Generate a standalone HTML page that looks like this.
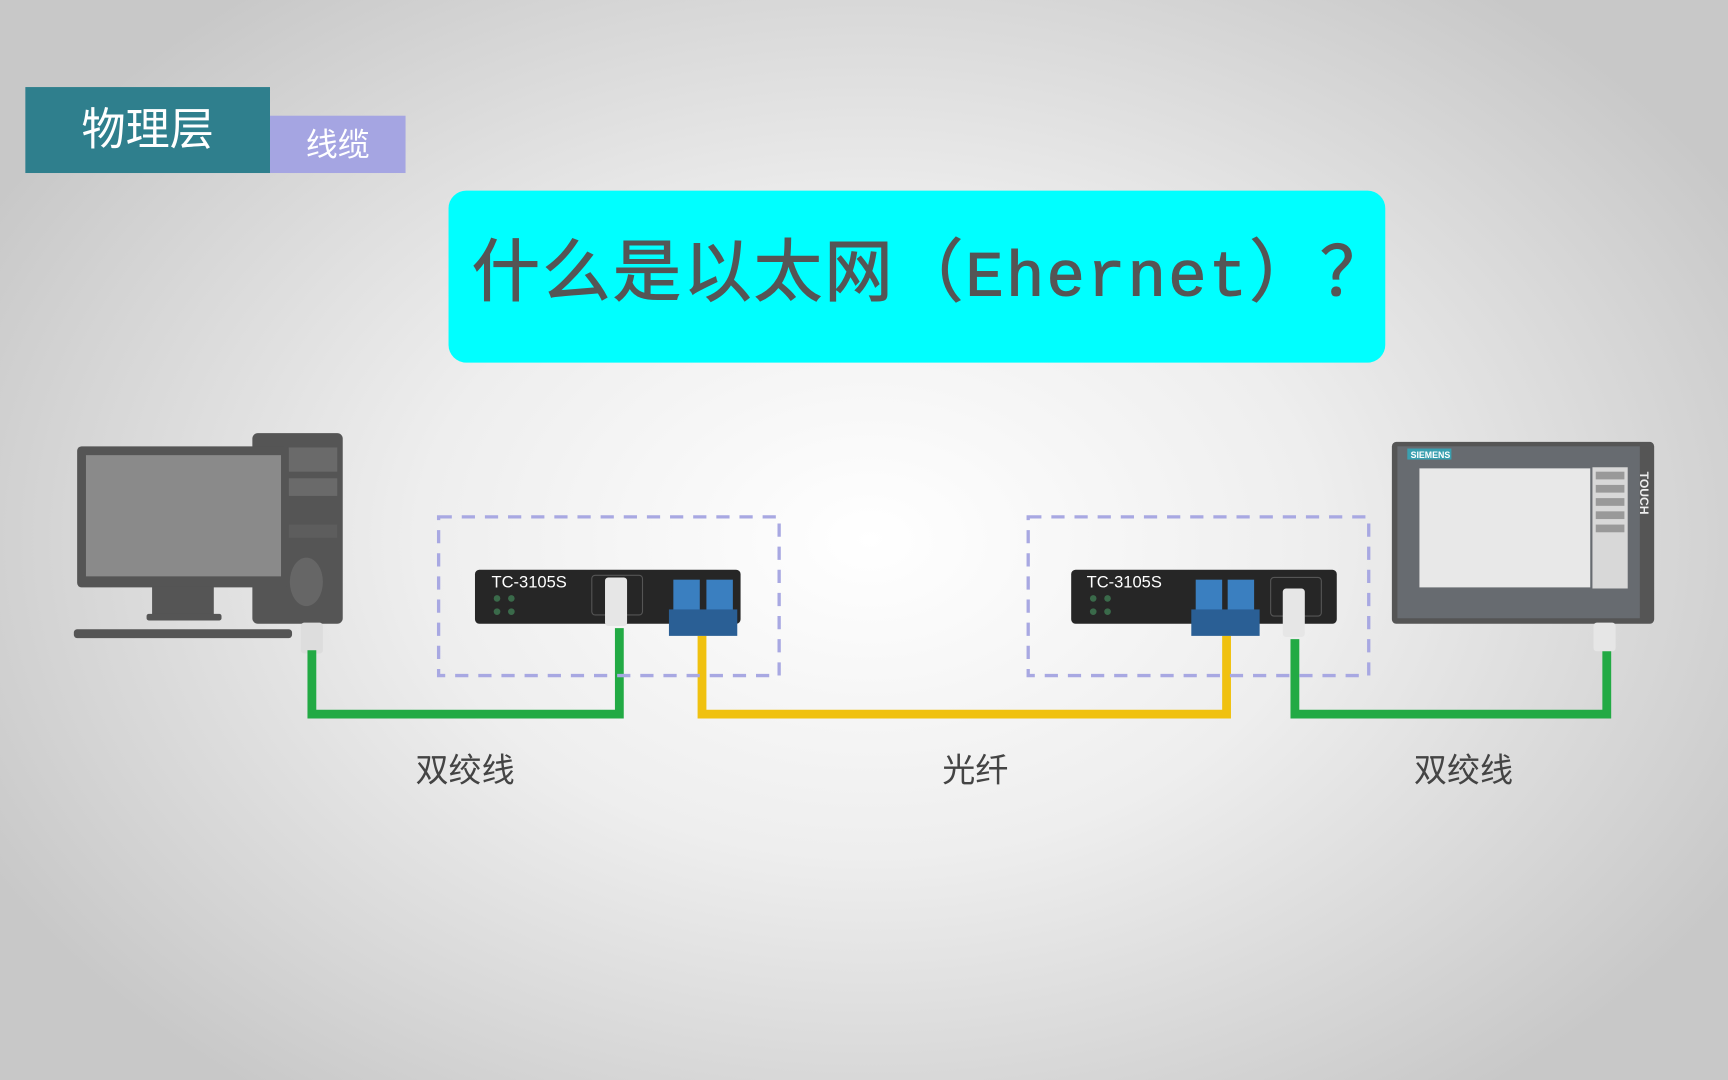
<!DOCTYPE html>
<html><head><meta charset="utf-8"><style>
html,body{margin:0;padding:0;width:1728px;height:1080px;overflow:hidden}
body{background:radial-gradient(ellipse 1000px 700px at 870px 540px,#ffffff 0%,#eeeeee 45%,#d6d6d6 80%,#c8c8c8 100%)}
#s{position:absolute;left:0;top:0;width:1568px;height:980px;transform:scale(1.10204);transform-origin:0 0;font-family:"Liberation Sans","Noto Sans CJK SC",sans-serif}
.a{position:absolute}
</style></head><body><div id="s">
<div class="a" style="left:23px;top:79px;width:222px;height:78px;background:#2f7f8d;color:#fff;font-size:40px;line-height:78px;text-align:center">物理层</div>
<div class="a" style="left:245px;top:105px;width:123px;height:52px;background:#a5a5e2;color:#fff;font-size:29px;line-height:54px;text-align:center">线缆</div>
<div class="a" style="left:407px;top:173px;width:850px;height:156px;background:#00ffff;border-radius:16px"></div>
<div class="a" style="left:428px;top:208px;font-size:62px;line-height:80px;color:#555;white-space:nowrap;letter-spacing:2px;-webkit-text-stroke:1px #555">什么是以太网（<span style="font-family:'Liberation Mono',monospace;font-size:58px">Ehernet</span>）？</div>
<svg class="a" style="left:0;top:0" width="1568" height="980">
<rect x="229" y="393" width="82" height="173" rx="5" fill="#555"/>
<rect x="262" y="406" width="44" height="22" fill="#6a6a6a"/>
<rect x="262" y="434" width="44" height="16" fill="#6a6a6a"/>
<rect x="262" y="476" width="44" height="12" fill="#5d5d5d"/>
<ellipse cx="278" cy="528" rx="15" ry="22" fill="#666"/>
<rect x="70" y="405" width="192" height="128" rx="4" fill="#555"/>
<rect x="78" y="413" width="177" height="110" fill="#8a8a8a"/>
<rect x="138" y="532" width="56" height="26" fill="#555"/>
<rect x="133" y="557" width="68" height="6" rx="2" fill="#555"/>
<rect x="67" y="571" width="198" height="8" rx="3" fill="#555"/>
<rect x="273" y="565" width="20" height="28" rx="3" fill="#ddd"/>
<g fill="none" stroke-width="8" stroke-linejoin="miter">
<path d="M283 590 V648 H562 V570" stroke="#22aa44"/>
<path d="M637 577 V648 H1113 V577" stroke="#f0c10f"/>
<path d="M1175 580 V648 H1458 V590" stroke="#22aa44"/>
</g>
<rect x="398" y="469" width="309" height="144" fill="none" stroke="#a8a8e2" stroke-width="3" stroke-dasharray="12 9"/>
<rect x="933" y="469" width="309" height="144" fill="none" stroke="#a8a8e2" stroke-width="3" stroke-dasharray="12 9"/>
<rect x="431" y="517" width="241" height="49" rx="4" fill="#262626"/>
<text x="446" y="533" fill="#fff" font-size="15" font-family="Liberation Sans">TC-3105S</text>
<g fill="#3a6a4a"><circle cx="451" cy="543" r="3"/><circle cx="464" cy="543" r="3"/><circle cx="451" cy="555" r="3"/><circle cx="464" cy="555" r="3"/></g>
<rect x="537" y="522" width="46" height="36" rx="3" fill="none" stroke="#555"/>
<rect x="549" y="524" width="20" height="44" rx="3" fill="#e6e6e6"/>
<rect x="611" y="526" width="24" height="28" fill="#3a7fc0"/><rect x="641" y="526" width="24" height="28" fill="#3a7fc0"/>
<rect x="607" y="553" width="62" height="24" fill="#2a5f95"/>
<rect x="972" y="517" width="241" height="49" rx="4" fill="#262626"/>
<text x="986" y="533" fill="#fff" font-size="15" font-family="Liberation Sans">TC-3105S</text>
<g fill="#3a6a4a"><circle cx="992" cy="543" r="3"/><circle cx="1005" cy="543" r="3"/><circle cx="992" cy="555" r="3"/><circle cx="1005" cy="555" r="3"/></g>
<rect x="1085" y="526" width="24" height="28" fill="#3a7fc0"/><rect x="1114" y="526" width="24" height="28" fill="#3a7fc0"/>
<rect x="1081" y="553" width="62" height="24" fill="#2a5f95"/>
<rect x="1153" y="524" width="46" height="35" rx="3" fill="none" stroke="#555"/>
<rect x="1164" y="534" width="20" height="44" rx="3" fill="#e6e6e6"/>
<rect x="1263" y="401" width="238" height="165" rx="4" fill="#555"/>
<rect x="1268" y="405" width="220" height="156" fill="#676b70"/>
<rect x="1288" y="425" width="155" height="108" fill="#e8e8e8"/>
<rect x="1445" y="424" width="32" height="110" fill="#d8d8d8"/>
<g fill="#999"><rect x="1448" y="428" width="26" height="7"/><rect x="1448" y="440" width="26" height="7"/><rect x="1448" y="452" width="26" height="7"/><rect x="1448" y="464" width="26" height="7"/><rect x="1448" y="476" width="26" height="7"/></g>
<rect x="1277" y="407" width="40" height="10" fill="#3aa0b0"/>
<text x="1280" y="415.5" fill="#fff" font-size="8" font-weight="bold" font-family="Liberation Sans">SIEMENS</text>
<text x="1488" y="428" fill="#eee" font-size="11" font-weight="bold" font-family="Liberation Sans" transform="rotate(90 1488 428)">TOUCH</text>
<rect x="1446" y="565" width="20" height="26" rx="3" fill="#e6e6e6"/>
<g font-size="30" fill="#444" font-family="Liberation Sans,Noto Sans CJK SC,sans-serif" text-anchor="middle">
<text x="422" y="709">双绞线</text><text x="885" y="709">光纤</text><text x="1328" y="709">双绞线</text></g>
</svg>
</div></body></html>
